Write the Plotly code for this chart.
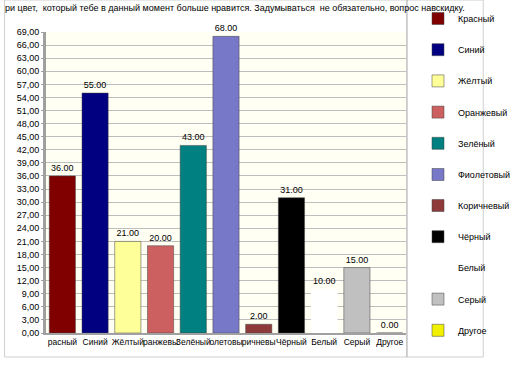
import plotly.graph_objects as go

categories = ["Красный", "Синий", "Жёлтый", "Оранжевый", "Зелёный", "Фиолетовый",
              "Коричневый", "Чёрный", "Белый", "Серый", "Другое"]
tick_labels = ["расный", "Синий", "Жёлтый", "ранжевы", "Зелёный", "олетовы",
               "ричневы", "Чёрный", "Белый", "Серый", "Другое"]
values = [36, 55, 21, 20, 43, 68, 2, 31, 10, 15, 0]
colors = ["#800000", "#000080", "#FFFF99", "#CC6060", "#008080", "#7878C8",
          "#8E3A3A", "#000000", "#FFFFFF", "#C0C0C0", "#F0F000"]
y_ticks = list(range(0, 70, 3))
title_text = ("ри цвет,  который тебе в данный момент больше нравится. "
              "Задумываться  не обязательно, вопрос навскидку.")

FONT = "Arial, Liberation Sans, sans-serif"

fig = go.Figure()
for i, (cat, val, col) in enumerate(zip(categories, values, colors)):
    fig.add_trace(go.Bar(
        x=[cat], y=[val], name=cat,
        marker=dict(color=col, line=dict(color="#404040" if col != "#FFFFFF" else "#FFFFFF", width=0.5)),
        text=[f"{val:.2f}"], textposition="outside", cliponaxis=False,
        textfont=dict(size=9, color="black", family=FONT),
        legendgroup=cat,
        legend="legend" if i < 6 else "legend2",
    ))

W, H = 512, 384
L, R, T, B = 46, 84, 32, 51
pw = W - L - R
ph = H - T - B

def px(x):
    return (x - L) / pw

def py(y):
    return (H - B - y) / ph

legend_common = dict(
    xref="container", yref="container",
    x=418 / W, xanchor="left", yanchor="top",
    font=dict(size=9, family=FONT, color="black"),
    tracegroupgap=12.2, bgcolor="rgba(0,0,0,0)",
    itemwidth=30,
)

fig.update_layout(
    width=W, height=H,
    margin=dict(l=L, r=R, t=T, b=B),
    paper_bgcolor="white",
    plot_bgcolor="#FFFFF4",
    barmode="overlay",
    bargap=0.2,
    separators=", ",
    font=dict(family=FONT, size=9, color="black"),
    showlegend=True,
    legend=dict(legend_common, y=1 - 4 / H),
    legend2=dict(legend_common, y=1 - 191 / H),
    xaxis=dict(
        tickmode="array", tickvals=categories, ticktext=tick_labels,
        tickangle=0,
        showline=True, linecolor="#A0A0A0", linewidth=2,
        tickfont=dict(size=8.5, family=FONT), ticks="",
    ),
    yaxis=dict(
        range=[0, 69], tickvals=y_ticks, tickformat=".2f",
        showgrid=True, gridcolor="#BEBEBE", gridwidth=1,
        showline=True, linecolor="#A0A0A0", linewidth=3,
        ticks="outside", ticklen=2, tickcolor="#A0A0A0",
        tickfont=dict(size=9, family=FONT), zeroline=False,
    ),
    shapes=[
        dict(type="rect", xref="paper", yref="paper",
             x0=px(2), x1=px(510), y0=py(357), y1=py(0),
             line=dict(color="#D0D0D0", width=1)),
        dict(type="line", xref="paper", yref="paper",
             x0=px(429), x1=px(429), y0=py(357), y1=py(0),
             line=dict(color="#A0A0A0", width=1)),
    ],
    annotations=[
        dict(text=title_text, xref="paper", yref="paper",
             x=px(0), y=py(8), xanchor="left", yanchor="middle",
             showarrow=False, font=dict(size=9, family=FONT, color="black")),
    ],
)

fig.write_html("out.html", config={"displayModeBar": False},
               post_script="document.body.style.margin='0';")
